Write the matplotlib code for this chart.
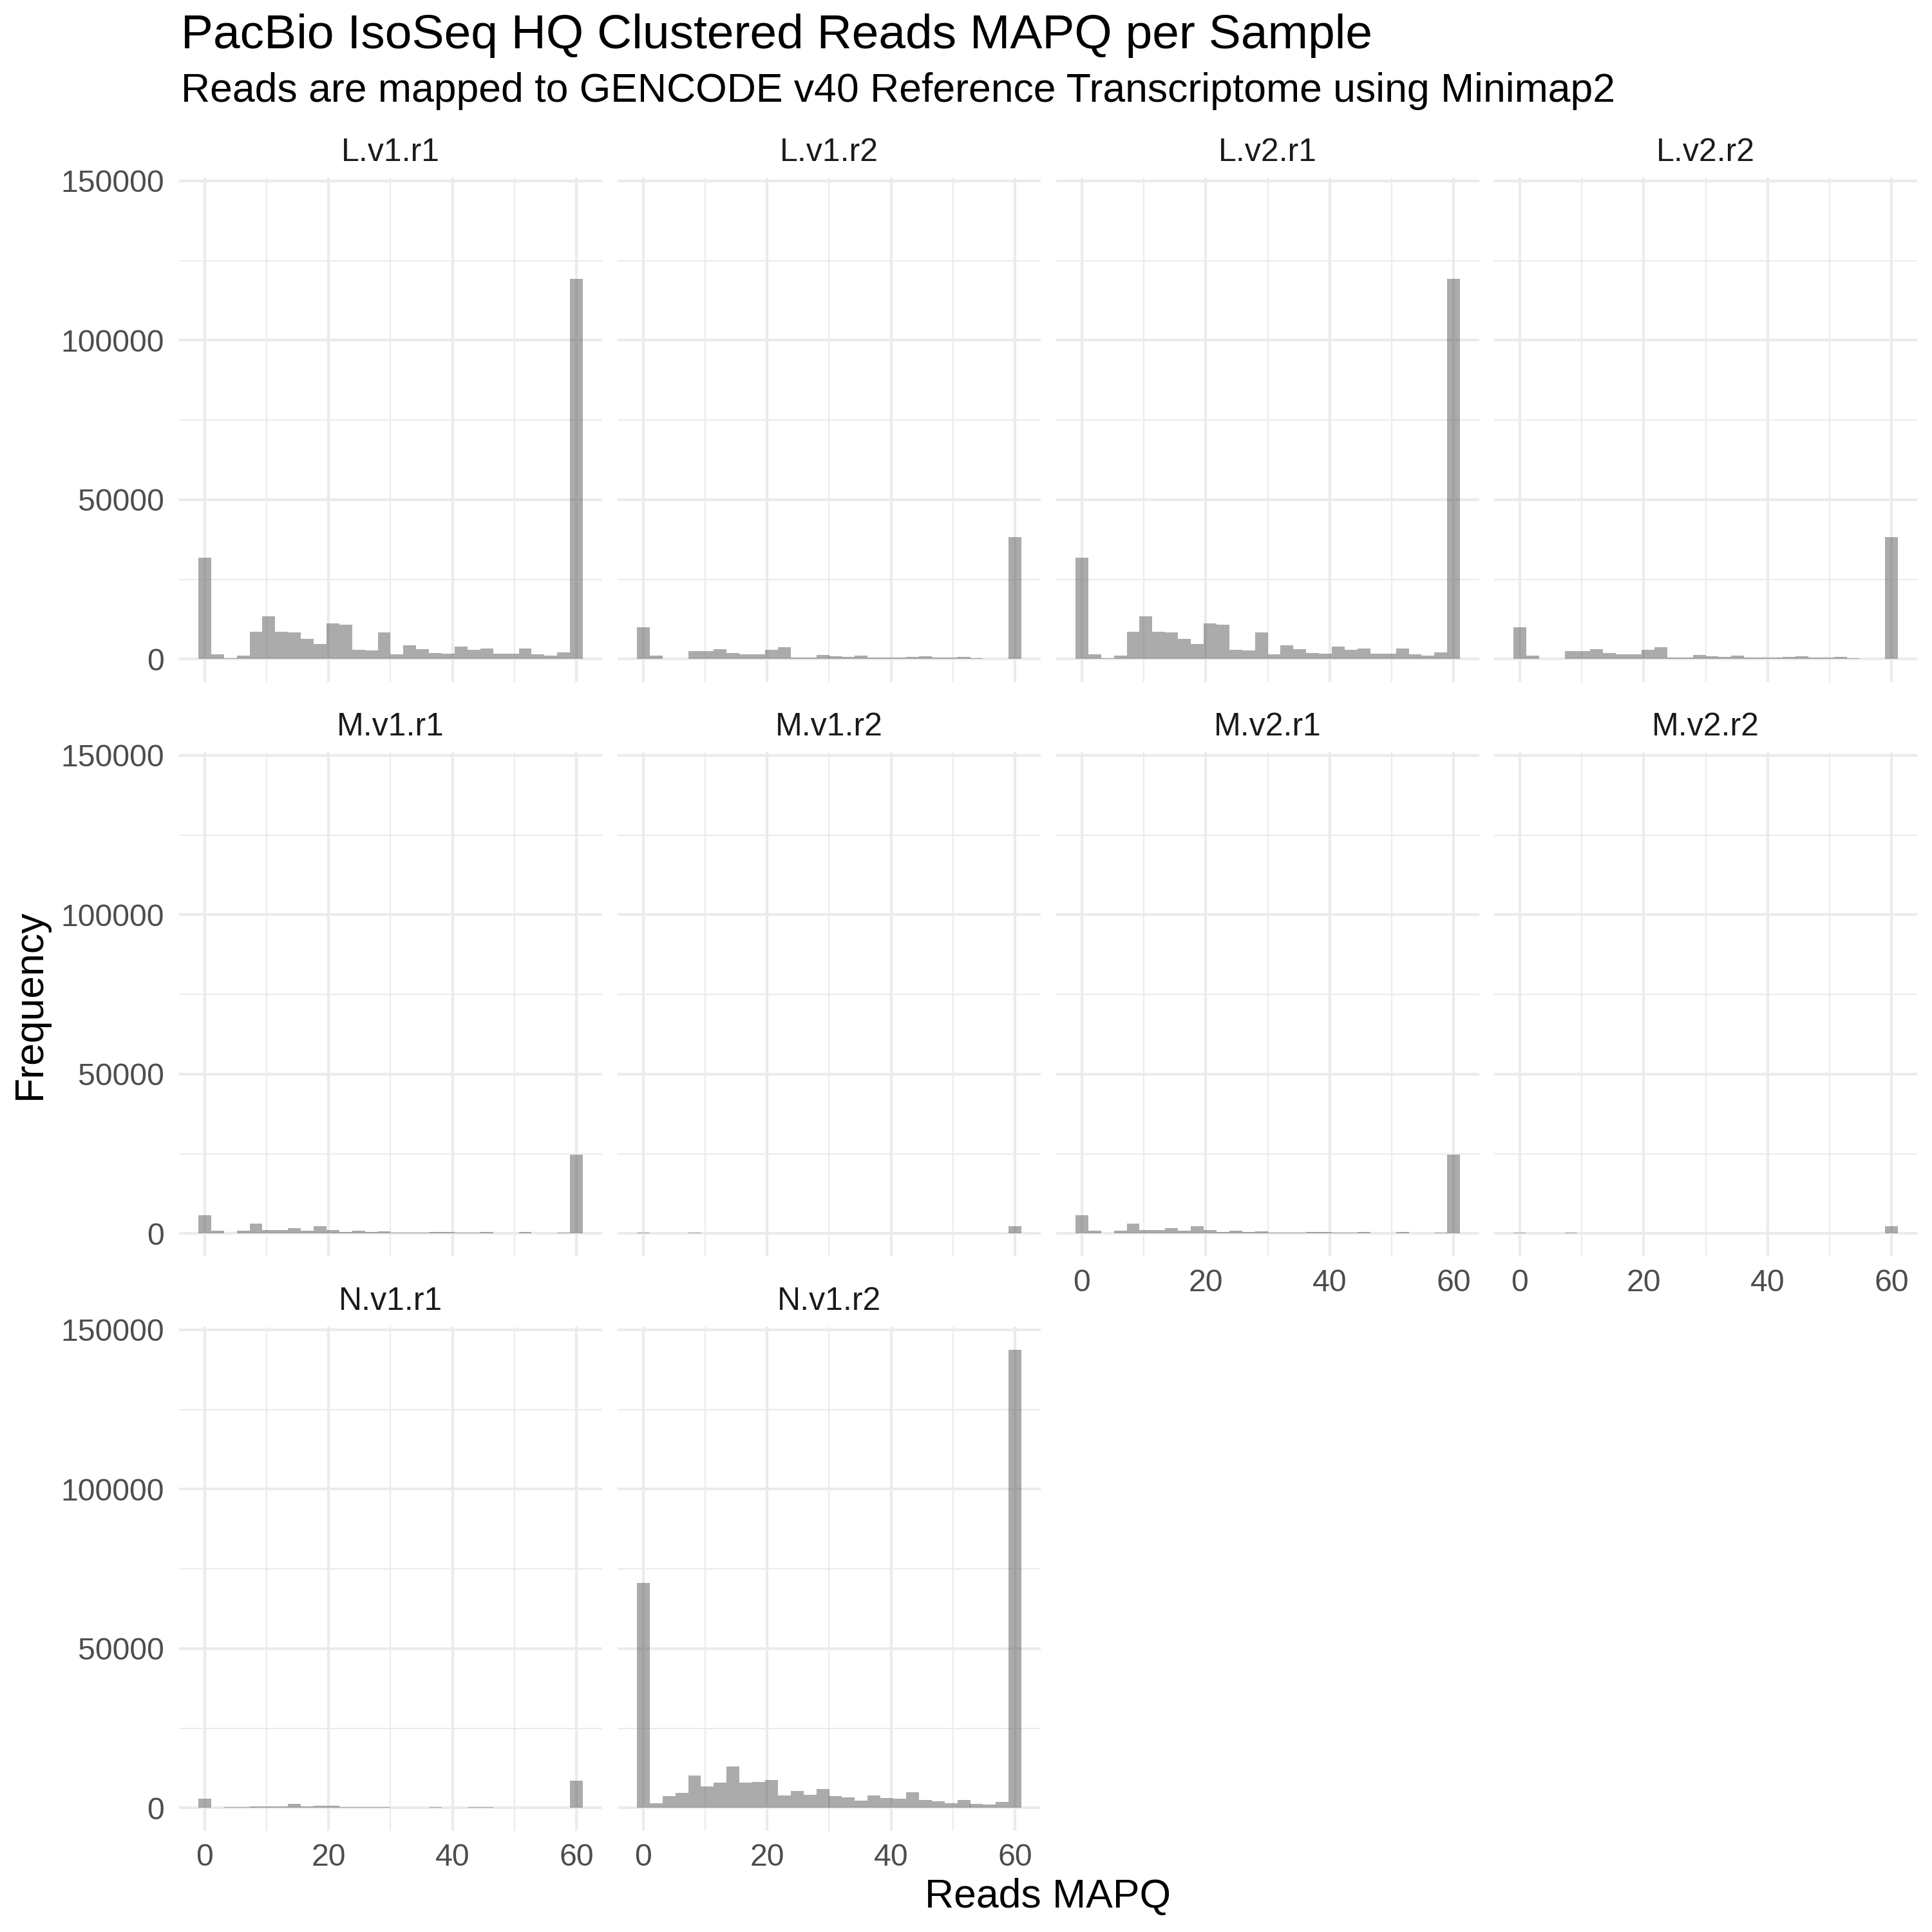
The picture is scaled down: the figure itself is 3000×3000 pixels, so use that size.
import numpy as np
import matplotlib
matplotlib.use("Agg")
import matplotlib.pyplot as plt
from matplotlib.ticker import FixedLocator, StrMethodFormatter

plt.rcParams['font.family'] = ['Liberation Sans', 'DejaVu Sans']

# histogram counts per sample, 30 bins over MAPQ 0..60
L_v1_r1 = [31900, 1500, 300, 1100, 8500, 13400, 8500, 8300, 6400, 4800,
           11200, 10750, 2950, 2750, 8300, 1500, 4400, 3150, 1900, 1700,
           4000, 2950, 3350, 1700, 1700, 3350, 1500, 1100, 2100, 119300]
L_v1_r2 = [9900, 1100, 100, 150, 2550, 2550, 3150, 1900, 1500, 1500,
           2950, 3750, 500, 500, 1300, 900, 700, 1100, 500, 500,
           500, 700, 900, 500, 500, 700, 300, 100, 100, 38300]
L_v2_r1 = [31900, 1500, 300, 1100, 8500, 13400, 8500, 8300, 6400, 4800,
           11200, 10750, 2950, 2750, 8300, 1500, 4400, 3150, 1900, 1700,
           4000, 2950, 3350, 1700, 1700, 3350, 1500, 1100, 2100, 119300]
L_v2_r2 = [9900, 1100, 100, 150, 2550, 2550, 3150, 1900, 1500, 1500,
           2950, 3750, 500, 500, 1300, 900, 700, 1100, 500, 500,
           500, 700, 900, 500, 500, 700, 300, 100, 100, 38300]
M_v1_r1 = [5700, 800, 70, 800, 3050, 1000, 1000, 1650, 800, 2250,
           1000, 400, 800, 400, 600, 200, 200, 200, 400, 400,
           200, 200, 400, 100, 100, 400, 100, 100, 200, 24700]
M_v1_r2 = [300, 30, 20, 30, 300, 30, 100, 30, 30, 100,
           30, 20, 20, 20, 20, 20, 20, 20, 20, 20,
           20, 20, 20, 20, 20, 20, 20, 20, 20, 2350]
M_v2_r1 = [5700, 800, 70, 800, 3050, 1000, 1000, 1650, 800, 2250,
           1000, 400, 800, 400, 600, 200, 200, 200, 400, 400,
           200, 200, 400, 100, 100, 400, 100, 100, 200, 24700]
M_v2_r2 = [300, 30, 20, 30, 300, 30, 100, 30, 30, 100,
           30, 20, 20, 20, 20, 20, 20, 20, 20, 20,
           20, 20, 20, 20, 20, 20, 20, 20, 20, 2350]
N_v1_r1 = [2880, 50, 200, 200, 400, 400, 400, 1230, 400, 600,
           600, 200, 200, 200, 200, 50, 50, 50, 200, 50,
           50, 200, 200, 50, 50, 50, 50, 50, 50, 8580]
N_v1_r2 = [70500, 1550, 3800, 4800, 10100, 6800, 8050, 13100, 8050, 8250,
           8850, 4000, 5400, 4200, 6000, 3800, 3400, 2350, 4000, 3200,
           3000, 5000, 2550, 2150, 1550, 2550, 1350, 1150, 1950, 143800]

samples = ['L.v1.r1', 'L.v1.r2', 'L.v2.r1', 'L.v2.r2',
           'M.v1.r1', 'M.v1.r2', 'M.v2.r1', 'M.v2.r2',
           'N.v1.r1', 'N.v1.r2']
counts = [L_v1_r1, L_v1_r2, L_v2_r1, L_v2_r2,
          M_v1_r1, M_v1_r2, M_v2_r1, M_v2_r2,
          N_v1_r1, N_v1_r2]

mapq_min, mapq_max, nbins = 0, 60, 30
bw = (mapq_max - mapq_min) / (nbins - 1)
centers = mapq_min + np.arange(nbins) * bw

x_lo, x_hi = mapq_min - bw / 2, mapq_max + bw / 2
x_pad = 0.05 * (x_hi - x_lo)
ymax = max(max(c) for c in counts)

W = H = 3000
fig = plt.figure(figsize=(10, 10), dpi=300)

col_left = [278, 959, 1640, 2320]
row_top = [276, 1168, 2060]
pw, ph = 657, 783

grid_col = '#EBEBEB'
for i, (name, cnt) in enumerate(zip(samples, counts)):
    r, c = divmod(i, 4)
    ax = fig.add_axes([col_left[c] / W, 1 - (row_top[r] + ph) / H, pw / W, ph / H])
    ax.set_axisbelow(True)
    ax.bar(centers, cnt, width=bw, color='#595959', alpha=0.5, linewidth=0)
    ax.set_xlim(x_lo - x_pad, x_hi + x_pad)
    ax.set_ylim(-0.05 * ymax, 1.05 * ymax)
    ax.xaxis.set_major_locator(FixedLocator([0, 20, 40, 60]))
    ax.xaxis.set_minor_locator(FixedLocator([10, 30, 50]))
    ax.yaxis.set_major_locator(FixedLocator([0, 50000, 100000, 150000]))
    ax.yaxis.set_minor_locator(FixedLocator([25000, 75000, 125000]))
    ax.yaxis.set_major_formatter(StrMethodFormatter('{x:.0f}'))
    ax.grid(which='major', color=grid_col, linewidth=1.0)
    ax.grid(which='minor', color=grid_col, linewidth=0.5)
    for s in ax.spines.values():
        s.set_visible(False)
    ax.tick_params(which='both', length=0, labelsize=11.6, labelcolor='#4D4D4D')
    ax.tick_params(axis='y', pad=5.5)
    ax.tick_params(axis='x', pad=4.5)
    bottom_of_col = (r == 2) or (r == 1 and c >= 2)
    ax.tick_params(labelleft=(c == 0), labelbottom=bottom_of_col)
    ax.text(0.5, 1 + 26 / ph, name, transform=ax.transAxes, ha='center',
            va='baseline', fontsize=12, color='#1A1A1A')

fig.text(281 / W, 1 - 75 / H, 'PacBio IsoSeq HQ Clustered Reads MAPQ per Sample',
         fontsize=18, ha='left', va='baseline', color='black')
fig.text(281 / W, 1 - 158 / H,
         'Reads are mapped to GENCODE v40 Reference Transcriptome using Minimap2',
         fontsize=15, ha='left', va='baseline', color='black')
fig.text(1627 / W, 1 - 2945 / H, 'Reads MAPQ', fontsize=15, ha='center', va='center')
fig.text(46 / W, 1 - 1559 / H, 'Frequency', fontsize=15, ha='center', va='center',
         rotation=90)

fig.savefig('out.png', dpi=300, facecolor='white')
